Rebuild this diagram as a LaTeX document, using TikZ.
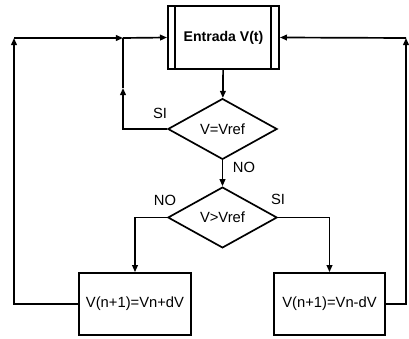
\documentclass[tikz,border=0pt]{standalone}
\usepackage{fontspec}
\setmainfont{Liberation Sans}
\usepackage{tikz}
\usetikzlibrary{
    arrows.meta,
    shapes.geometric,
    positioning,
    calc
}
\tikzstyle{process} = [
    rectangle,
    draw=black,
    line width=1.2pt,
    minimum width=2.78cm,
    minimum height=1.56cm,
    inner sep=0pt,
    text centered,
    font=\fontsize{10}{12}\selectfont\bfseries
]
\tikzstyle{update} = [
    rectangle,
    draw=black,
    line width=1.2pt,
    minimum width=2.79cm,
    minimum height=1.55cm,
    inner sep=0pt,
    text centered,
    font=\fontsize{10.5}{12}\selectfont
]
\tikzstyle{decision} = [
    diamond,
    draw=black,
    line width=1.2pt,
    aspect=1.8,
    minimum width=2.73cm,
    minimum height=1.52cm,
    inner sep=0pt,
    text centered,
    font=\fontsize{10.5}{12}\selectfont
]
\tikzstyle{answer} = [
    inner sep=0pt,
    font=\fontsize{10.5}{12}\selectfont
]
\tikzstyle{line} = [
    line width=1.2pt,
    draw=black
]
\tikzstyle{flow} = [
    -{Triangle[length=5pt,width=4pt]},
    line width=1.2pt,
    draw=black
]
\begin{document}
\begin{tikzpicture}[x=0.025cm, y=-0.025cm]
    \useasboundingbox (0,0) rectangle (409,339);

    % Input
    \node[process] (entrada) at (223.5, 37.5) {Entrada V(t)};
    \draw[line] ($(entrada.north west)+(8,0)$) -- ($(entrada.south west)+(8,0)$);
    \draw[line] ($(entrada.north east)+(-9,0)$) -- ($(entrada.south east)+(-9,0)$);

    % Decisions
    \node[decision] (equal) at (222.5, 129) {V=Vref};
    \node[decision] (greater) at (222.5, 217.5) {V>Vref};

    % Updates
    \node[update] (incr) at (135, 304) {V(n+1)=Vn+dV};
    \node[update] (decr) at (329.5, 304) {V(n+1)=Vn-dV};

    % Corners of the feedback loops
    \coordinate (join) at (123, 38);
    \coordinate (siup) at (123, 88);
    \coordinate (leftc) at (14, 38);
    \coordinate (rightc) at (406, 38);

    % Labels
    \node[answer] (si1) at (160, 113) {SI};
    \node[answer] (no1) at (244, 167) {NO};
    \node[answer] (no2) at (165, 200) {NO};
    \node[answer] (si2) at (278, 199) {SI};

    % Arrows
    \draw[flow] (entrada) -- (equal);
    \draw[flow] (equal) -- (greater);
    \draw[flow] (equal.west) -| (siup);
    \draw[line] (siup) -- (join);
    \draw[flow] (join) -- (entrada.west);
    \draw[flow] (greater.west) -| (incr.north);
    \draw[flow] (greater.east) -| (decr.north);
    \draw[flow] (incr.west) -| (leftc);
    \draw[flow] (leftc) -- (join);
    \draw[flow] (decr.east) -| (rightc);
    \draw[flow] (rightc) -- (entrada.east);
\end{tikzpicture}
\end{document}
